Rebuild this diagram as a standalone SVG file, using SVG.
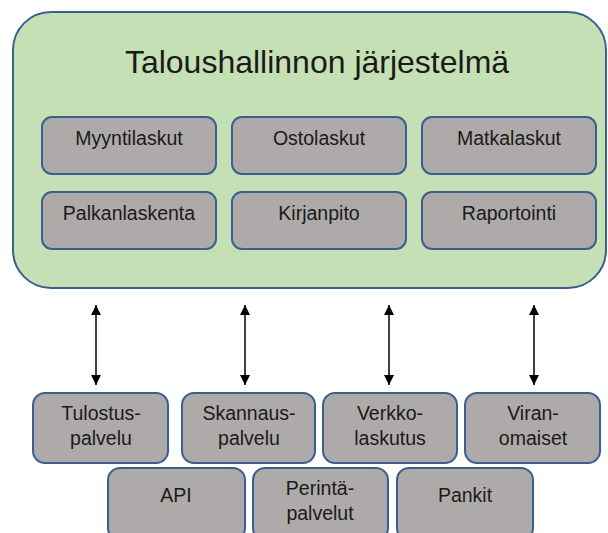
<svg xmlns="http://www.w3.org/2000/svg" width="608" height="533" viewBox="0 0 608 533">
  <style>
    .main { fill: #c5e0b4; stroke: #3b5f8f; stroke-width: 2; }
    .box { fill: #aeaaaa; stroke: #3b5f8f; stroke-width: 2; }
    .t { font-family: "Liberation Sans", Arial, sans-serif; fill: #1a1a1a; text-anchor: middle; }
    .lbl { font-size: 19.5px; }
    .title { font-size: 32px; }
    .conn line { stroke: #000; stroke-width: 1.5; marker-start: url(#ah); marker-end: url(#ah); }
  </style>
  <defs>
    <marker id="ah" viewBox="0 0 10 10" refX="10" refY="5" markerWidth="10" markerHeight="10" markerUnits="userSpaceOnUse" orient="auto-start-reverse">
      <path d="M0,0 L10,5 L0,10 z" fill="#000"/>
    </marker>
  </defs>
  <rect width="608" height="533" fill="#fff"/>

  <g id="talous">
    <rect class="main" x="13" y="12" width="593" height="276" rx="38" ry="38"/>
    <text class="t title" x="317" y="73">Taloushallinnon järjestelmä</text>
  </g>

  <g id="myyntilaskut">
    <rect class="box" x="42" y="117" width="174" height="57" rx="10"/>
    <text class="t lbl" x="129" y="145">Myyntilaskut</text>
  </g>
  <g id="ostolaskut">
    <rect class="box" x="232" y="117" width="174" height="57" rx="10"/>
    <text class="t lbl" x="319" y="145">Ostolaskut</text>
  </g>
  <g id="matkalaskut">
    <rect class="box" x="422" y="117" width="174" height="57" rx="10"/>
    <text class="t lbl" x="509" y="145">Matkalaskut</text>
  </g>
  <g id="palkanlaskenta">
    <rect class="box" x="42" y="192" width="174" height="57" rx="10"/>
    <text class="t lbl" x="129" y="220">Palkanlaskenta</text>
  </g>
  <g id="kirjanpito">
    <rect class="box" x="232" y="192" width="174" height="57" rx="10"/>
    <text class="t lbl" x="319" y="220">Kirjanpito</text>
  </g>
  <g id="raportointi">
    <rect class="box" x="422" y="192" width="174" height="57" rx="10"/>
    <text class="t lbl" x="509" y="220">Raportointi</text>
  </g>

  <g id="connectors" class="conn">
    <line x1="96" y1="305" x2="96" y2="385"/>
    <line x1="245" y1="305" x2="245" y2="385"/>
    <line x1="389" y1="305" x2="389" y2="385"/>
    <line x1="534" y1="305" x2="534" y2="385"/>
  </g>

  <g id="tulostus">
    <rect class="box" x="33" y="393" width="135" height="70" rx="12"/>
    <text class="t lbl" x="101" y="420">Tulostus-</text>
    <text class="t lbl" x="101" y="445">palvelu</text>
  </g>
  <g id="skannaus">
    <rect class="box" x="182" y="393" width="133" height="70" rx="12"/>
    <text class="t lbl" x="249" y="420">Skannaus-</text>
    <text class="t lbl" x="249" y="445">palvelu</text>
  </g>
  <g id="verkkolaskutus">
    <rect class="box" x="323" y="393" width="134" height="70" rx="12"/>
    <text class="t lbl" x="390" y="420">Verkko-</text>
    <text class="t lbl" x="390" y="445">laskutus</text>
  </g>
  <g id="viranomaiset">
    <rect class="box" x="465" y="393" width="135" height="70" rx="12"/>
    <text class="t lbl" x="533" y="420">Viran-</text>
    <text class="t lbl" x="533" y="445">omaiset</text>
  </g>
  <g id="api">
    <rect class="box" x="108" y="468" width="137" height="72" rx="12"/>
    <text class="t lbl" x="176" y="502">API</text>
  </g>
  <g id="perinta">
    <rect class="box" x="253" y="468" width="135" height="72" rx="12"/>
    <text class="t lbl" x="320" y="495">Perintä-</text>
    <text class="t lbl" x="320" y="520">palvelut</text>
  </g>
  <g id="pankit">
    <rect class="box" x="397" y="468" width="136" height="72" rx="12"/>
    <text class="t lbl" x="465" y="502">Pankit</text>
  </g>
</svg>
